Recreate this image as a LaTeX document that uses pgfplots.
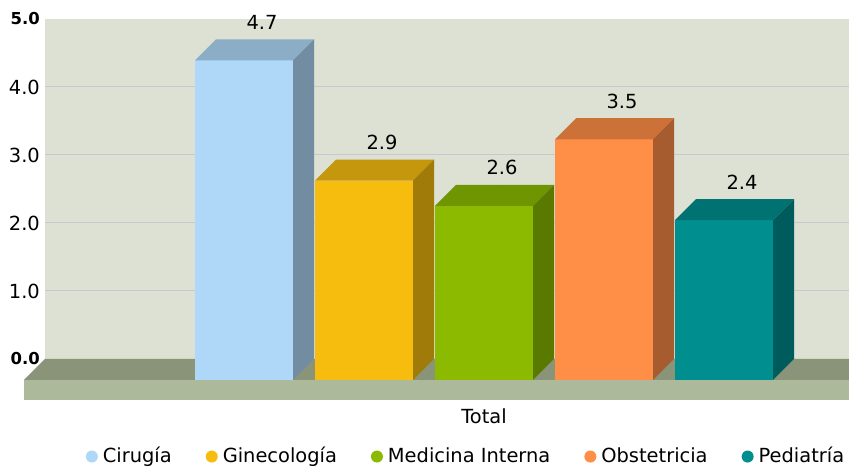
\documentclass[border=0pt]{standalone}
\usepackage{pgfplots}
\pgfplotsset{compat=1.18}
\usepackage{fontspec}
\setmainfont{DejaVu Sans}

\definecolor{wall}{HTML}{DCE1D3}
\definecolor{gridc}{HTML}{C9C7D3}
\definecolor{floortop}{HTML}{8A9479}
\definecolor{floorfront}{HTML}{ACB99A}
\definecolor{cA}{HTML}{AFD8F8}
\definecolor{cB}{HTML}{F6BD0F}
\definecolor{cC}{HTML}{8BBA00}
\definecolor{cD}{HTML}{FF8E46}
\definecolor{cE}{HTML}{008E8E}

% 3D bar: #1 left x of front face (px), #2 value, #3 colour
\newcommand{\bartd}[3]{%
  \pgfmathsetmacro\xa{#1}%
  \pgfmathsetmacro\xb{#1+98}%
  \pgfmathsetmacro\xc{#1+21}%
  \pgfmathsetmacro\xd{#1+119}%
  \pgfmathsetmacro\yf{#2-0.309}%
  \edef\tmp{%
  \noexpand\addplot[fill=#3, draw=none, forget plot] coordinates {(\xa,-0.309) (\xa,\yf) (\xb,\yf) (\xb,-0.309)} -- cycle;
  \noexpand\addplot[fill=#3!80!black, draw=none, forget plot] coordinates {(\xa,\yf) (\xc,#2) (\xd,#2) (\xb,\yf)} -- cycle;
  \noexpand\addplot[fill=#3!65!black, draw=none, forget plot] coordinates {(\xb,-0.309) (\xb,\yf) (\xd,#2) (\xd,0)} -- cycle;
  }\tmp
}

\begin{document}
\begin{tikzpicture}
\begin{axis}[
  scale only axis, width=804bp, height=340bp,
  xmin=45, xmax=849, ymin=0, ymax=5,
  clip=false,
  axis line style={draw=none},
  axis background/.style={fill=wall},
  major tick length=0pt,
  tick label style={font=\fontsize{19.5}{23}\selectfont},
  ytick={1,2,3,4}, yticklabels={1.0,2.0,3.0,4.0},
  extra y ticks={0,5},
  extra y tick labels={{\fontsize{16.5}{20}\selectfont\bfseries 0.0},{\fontsize{16.5}{20}\selectfont\bfseries 5.0}},
  extra y tick style={grid=none},
  ymajorgrids, major grid style={draw=gridc, line width=1bp},
  yticklabel style={anchor=east, inner sep=0pt, xshift=-5bp},
  xtick={484}, xticklabels={Total},
  xticklabel style={anchor=base, inner sep=0pt, yshift=-65bp},
  legend columns=5,
  legend cell align=left,
  legend image code/.code={\fill[#1, draw=none] (0bp,3.5bp) circle (6bp);},
  legend style={draw=none, fill=none, at={(0.5224,-0.291)}, anchor=center,
    font=\fontsize{19.5}{23}\selectfont,
    column sep=5bp, /tikz/every even column/.append style={column sep=34bp},
    nodes={inner sep=0pt, text height=0.8em, text depth=0.25em}},
]
% floor
\addplot[fill=floortop, draw=none, forget plot] coordinates {(45,0) (849,0) (849,-0.309) (24,-0.309)} -- cycle;
\addplot[fill=floorfront, draw=none, forget plot] coordinates {(24,-0.309) (849,-0.309) (849,-0.603) (24,-0.603)} -- cycle;
% bars
\bartd{195}{4.70}{cA}
\bartd{315}{2.93}{cB}
\bartd{435}{2.56}{cC}
\bartd{555}{3.54}{cD}
\bartd{675}{2.35}{cE}
% value labels
\addplot[only marks, mark=*, mark size=0pt, mark options={draw=none, fill=none}, forget plot,
  nodes near coords, point meta=explicit symbolic,
  every node near coord/.append style={anchor=south, inner sep=0pt, yshift=9.5bp, font=\fontsize{19.5}{23}\selectfont, text=black}]
  coordinates {(262,4.70)[4.7] (382,2.93)[2.9] (502,2.56)[2.6] (622,3.54)[3.5] (742,2.35)[2.4]};
% legend
\addlegendimage{fill=cA}\addlegendentry{Cirugía}
\addlegendimage{fill=cB}\addlegendentry{Ginecología}
\addlegendimage{fill=cC}\addlegendentry{Medicina Interna}
\addlegendimage{fill=cD}\addlegendentry{Obstetricia}
\addlegendimage{fill=cE}\addlegendentry{Pediatría}
\coordinate (BL) at (axis cs:0,-1.603);
\coordinate (TR) at (axis cs:849,5.279);
\end{axis}
\pgfresetboundingbox
\useasboundingbox (BL) rectangle (TR);
\end{tikzpicture}
\end{document}
